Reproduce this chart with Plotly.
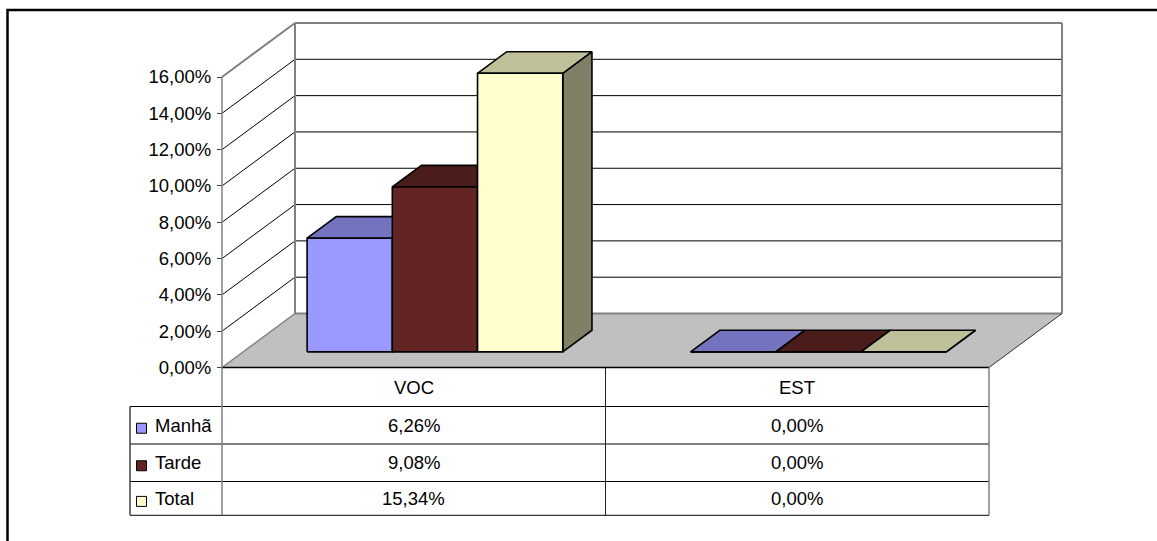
import plotly.graph_objects as go

# ---- data -------------------------------------------------------------
categories = ["VOC", "EST"]
series_names = ["Manhã", "Tarde", "Total"]
manha = [6.26, 0.00]
tarde = [9.08, 0.00]
total = [15.34, 0.00]
series_values = [manha, tarde, total]
y_ticks = [0, 2, 4, 6, 8, 10, 12, 14, 16]
y_tick_labels = ["0,00%", "2,00%", "4,00%", "6,00%", "8,00%",
                 "10,00%", "12,00%", "14,00%", "16,00%"]
table_labels = [["6,26%", "0,00%"], ["9,08%", "0,00%"], ["15,34%", "0,00%"]]

# ---- style ------------------------------------------------------------
front_colors = ["#9999FF", "#632523", "#FFFFCC"]
FONT = "Liberation Sans, Arial, sans-serif"
FS = 18.5
GRAY = "#808080"

# ---- geometry of the pseudo-3D frame ----------------------------------
W, H = 1157, 541
ORIGIN_X, ORIGIN_Y = 222.0, 367.5     # front-left corner of the floor
CAT_PX = 383.5                        # width of one category on the front plane
PCT_PX = 290.5 / 16                   # pixels per percentage point
DEPTH_X, DEPTH_Y = 73.0, 54.0         # oblique offset from front to back wall
GAP_WIDTH = 1.5                       # gap between groups, in bar widths
BAR_D0, BAR_D1 = 0.29, 0.69           # bar depth span (fraction of floor depth)
Y_MAX = 16


def shade(hex_color, k):
    r, g, b = (int(hex_color[i:i + 2], 16) for i in (1, 3, 5))
    return "#%02X%02X%02X" % (round(r * k), round(g * k), round(b * k))


def proj(x, y, d):
    """Point at category x, value y, depth d (0 front .. 1 back) -> axis data."""
    return x + d * DEPTH_X / CAT_PX, y + d * DEPTH_Y / PCT_PX


def px_x(px):
    return (px - ORIGIN_X) / CAT_PX


def px_y(py):
    return (ORIGIN_Y - py) / PCT_PX


fig = go.Figure()
shapes = []
annotations = []


def poly_path(pts):
    return "M " + " L ".join(f"{x},{y}" for x, y in pts) + " Z"


def seg(p, q, color, width, layer="below"):
    shapes.append(dict(type="line", xref="x", yref="y", x0=p[0], y0=p[1],
                       x1=q[0], y1=q[1], layer=layer,
                       line=dict(color=color, width=width)))


n_cat = len(categories)

# walls and floor
shapes.append(dict(type="path", xref="x", yref="y", layer="below",
                   path=poly_path([proj(0, 0, 1), proj(n_cat, 0, 1),
                                   proj(n_cat, Y_MAX, 1), proj(0, Y_MAX, 1)]),
                   fillcolor="white", line=dict(width=0)))
shapes.append(dict(type="path", xref="x", yref="y", layer="below",
                   path=poly_path([proj(0, 0, 0), proj(n_cat, 0, 0),
                                   proj(n_cat, 0, 1), proj(0, 0, 1)]),
                   fillcolor="#C0C0C0", line=dict(width=0)))

# gridlines on side and back wall
for v in y_ticks[1:-1]:
    seg(proj(0, v, 0), proj(0, v, 1), "#000000", 1)
    seg(proj(0, v, 1), proj(n_cat, v, 1), "#000000", 1)

# wall edges
seg(proj(0, Y_MAX, 0), proj(0, Y_MAX, 1), GRAY, 2)
seg(proj(0, Y_MAX, 1), proj(n_cat, Y_MAX, 1), GRAY, 2)
seg(proj(0, 0, 1), proj(0, Y_MAX, 1), GRAY, 2)
seg(proj(n_cat, 0, 1), proj(n_cat, Y_MAX, 1), GRAY, 2)
seg(proj(0, 0, 1), proj(n_cat, 0, 1), GRAY, 2)
seg(proj(0, 0, 0), proj(0, 0, 1), GRAY, 1.5)
seg(proj(n_cat, 0, 0), proj(n_cat, 0, 1), "#303030", 1)

# bars: side, top and front face of each box
bw = 1.0 / (len(series_names) + GAP_WIDTH)
for ci in range(n_cat):
    for si, vals in enumerate(series_values):
        v = vals[ci]
        x0 = ci + GAP_WIDTH * bw / 2 + si * bw
        x1 = x0 + bw
        col = front_colors[si]
        faces = [
            ([proj(x1, 0, BAR_D0), proj(x1, 0, BAR_D1),
              proj(x1, v, BAR_D1), proj(x1, v, BAR_D0)], shade(col, 0.5)),
            ([proj(x0, v, BAR_D0), proj(x1, v, BAR_D0),
              proj(x1, v, BAR_D1), proj(x0, v, BAR_D1)], shade(col, 0.75)),
            ([proj(x0, 0, BAR_D0), proj(x1, 0, BAR_D0),
              proj(x1, v, BAR_D0), proj(x0, v, BAR_D0)], col),
        ]
        for pts, fc in faces:
            xs = [p[0] for p in pts] + [pts[0][0]]
            ys = [p[1] for p in pts] + [pts[0][1]]
            fig.add_trace(go.Scatter(
                x=xs, y=ys, mode="lines", fill="toself", fillcolor=fc,
                line=dict(color="#000000", width=1.6),
                hoverinfo="skip", showlegend=False))

# ---- data table -------------------------------------------------------
ROW_PX = [ORIGIN_Y, 406.5, 444.0, 481.5, 515.3]
TABLE_LEFT_PX = 130.0
rows_y = [px_y(p) for p in ROW_PX]
left = px_x(TABLE_LEFT_PX)

seg((0, 0), (n_cat, 0), "#000000", 1.5, "above")
for ry in rows_y[1:]:
    seg((left, ry), (n_cat, ry), "#000000", 1, "above")
seg((left, rows_y[1]), (left, rows_y[-1]), "#404040", 1.5, "above")
seg((0, Y_MAX), (0, rows_y[-1]), GRAY, 1.5, "above")
for ci in range(1, n_cat):
    seg((ci, 0), (ci, rows_y[-1]), "#202020", 1, "above")
seg((n_cat, 0), (n_cat, rows_y[-1]), GRAY, 1.5, "above")

tfont = dict(family=FONT, size=FS, color="#000000")
for ci, cat in enumerate(categories):
    annotations.append(dict(x=ci + 0.5, y=(rows_y[0] + rows_y[1]) / 2,
                            xref="x", yref="y", text=cat, showarrow=False,
                            font=tfont, xanchor="center", yanchor="middle"))
for si, name in enumerate(series_names):
    yc = (rows_y[si + 1] + rows_y[si + 2]) / 2
    for ci in range(n_cat):
        annotations.append(dict(x=ci + 0.5, y=yc, xref="x", yref="y",
                                text=table_labels[si][ci], showarrow=False,
                                font=tfont, xanchor="center", yanchor="middle"))
    # legend key
    sy = yc - 3 / PCT_PX
    half = 5 / PCT_PX
    shapes.append(dict(type="rect", xref="x", yref="y", layer="above",
                       x0=px_x(136.5), x1=px_x(146.5), y0=sy - half, y1=sy + half,
                       fillcolor=front_colors[si],
                       line=dict(color="#000000", width=1)))
    annotations.append(dict(x=px_x(153), y=yc, xref="x", yref="y", text=name,
                            showarrow=False, font=tfont, xanchor="left",
                            yanchor="middle"))

# chart area border
shapes.append(dict(type="rect", xref="paper", yref="paper", layer="above",
                   x0=7.5 / W, x1=1.02, y0=-0.02, y1=1 - 10 / H,
                   line=dict(color="#000000", width=2.5), fillcolor="rgba(0,0,0,0)"))

fig.update_layout(
    template="none",
    width=W, height=H,
    margin=dict(l=0, r=0, t=0, b=0),
    paper_bgcolor="white", plot_bgcolor="white",
    showlegend=False,
    shapes=shapes,
    annotations=annotations,
    xaxis=dict(range=[px_x(0), px_x(W)], visible=False, fixedrange=True,
               domain=[0, 1]),
    yaxis=dict(range=[px_y(H), px_y(0)], anchor="free", position=ORIGIN_X / W,
               tickvals=y_ticks, ticktext=y_tick_labels,
               ticks="outside", ticklen=5, tickwidth=1, tickcolor="#404040",
               ticklabelstandoff=2,
               showgrid=False, zeroline=False, showline=False,
               automargin=False, fixedrange=True, domain=[0, 1],
               tickfont=dict(family=FONT, size=FS, color="#000000")),
)

fig.write_html("out.html")
